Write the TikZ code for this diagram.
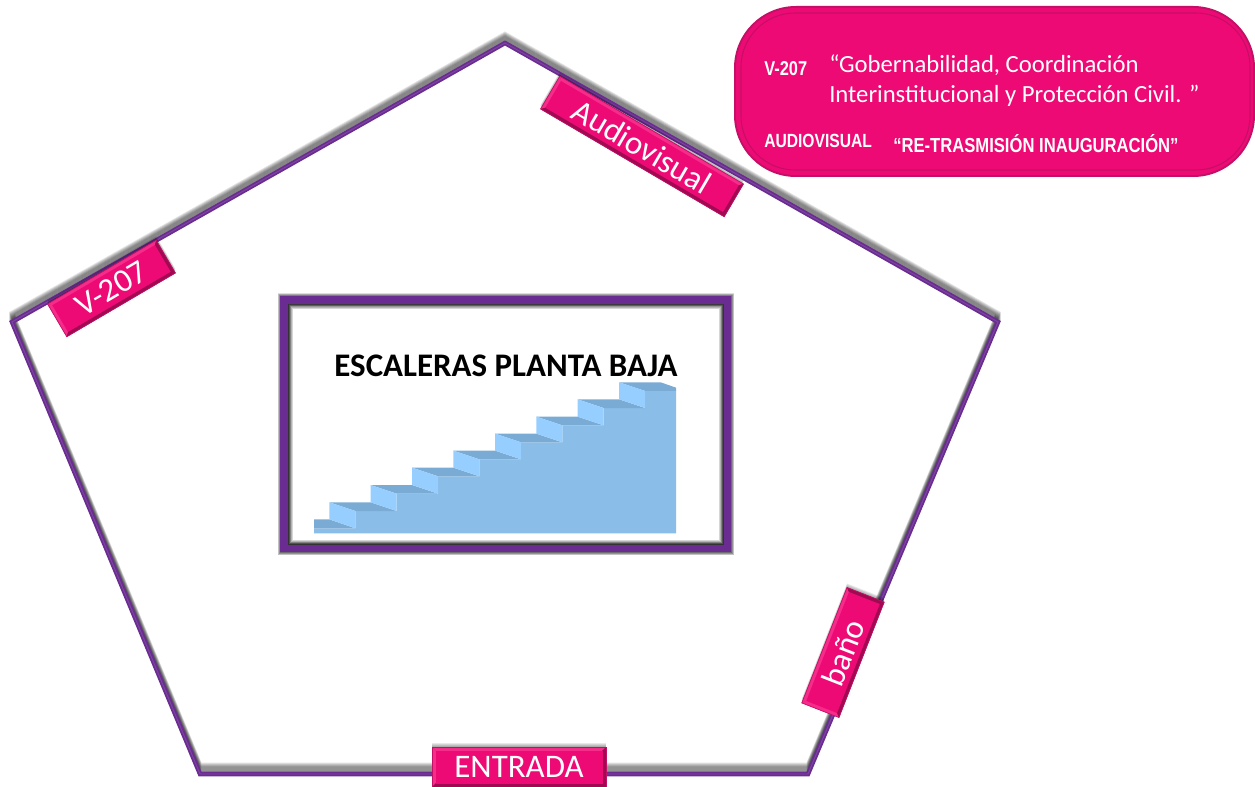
\documentclass[tikz,border=0pt]{standalone}
\usepackage{fontspec}
\setmainfont{Carlito}
\newfontfamily\arialn[FakeStretch=0.82]{Liberation Sans}
\usetikzlibrary{calc}
\definecolor{pinkfill}{HTML}{EE0A74}
\definecolor{pinklight}{HTML}{F52C8A}
\definecolor{pinkdark}{HTML}{A00A52}
\definecolor{pinkedge}{HTML}{C40F66}
\definecolor{wallpurple}{HTML}{6A2C91}
\definecolor{stairfront}{HTML}{8ABDE8}
\definecolor{stairtread}{HTML}{7AABD4}
\definecolor{stairriser}{HTML}{96CFFF}
\tikzset{
  tagtext/.style={inner sep=0pt,text=white,font=\fontsize{24.7}{24.7}\selectfont},
  legendbig/.style={anchor=base west,inner sep=0pt,text=white,font=\fontsize{18.5}{18.5}\selectfont},
  legendbold/.style={anchor=base west,inner sep=0pt,text=white,font=\arialn\bfseries\fontsize{15}{15}\selectfont},
  wall/.style={draw=wallpurple,line width=3.4pt,line join=miter},
  wallshadow/.style={draw=black,opacity=0.11,line width=3.4pt,line join=miter},
  frameglow/.style={draw=black,opacity=0.13,line join=miter},
  riser/.style={fill=stairriser},
  tread/.style={fill=stairtread}
}
\newcommand{\tagshape}[7]{%
  \foreach \s in {1,2,3,4}{
    \begin{scope}[shift={(#2,#3-\s)},rotate=#6]
      \fill[black,opacity=0.09] (-#4/2,-#5/2) rectangle (#4/2,#5/2);
    \end{scope}
  }
  \begin{scope}[shift={(#2,#3)},rotate=#6]
    \fill[pinkedge] (-#4/2,-#5/2) rectangle (#4/2,#5/2);
    \fill[pinklight] (-#4/2,-#5/2) -- (#4/2,-#5/2) -- (#4/2-4,-#5/2+4) -- (-#4/2+4,-#5/2+4) -- cycle;
    \fill[pinklight] (-#4/2,-#5/2) -- (-#4/2+4,-#5/2+4) -- (-#4/2+4,#5/2-4) -- (-#4/2,#5/2) -- cycle;
    \fill[pinkdark] (#4/2,-#5/2) -- (#4/2-4,-#5/2+4) -- (#4/2-4,#5/2-4) -- (#4/2,#5/2) -- cycle;
    \fill[pinkdark] (-#4/2,#5/2) -- (#4/2,#5/2) -- (#4/2-4,#5/2-4) -- (-#4/2+4,#5/2-4) -- cycle;
    \fill[pinkfill] (-#4/2+3.5,-#5/2+3.5) rectangle (#4/2-3.5,#5/2-3.5);
    \draw[pinkedge,line width=0.5pt] (-#4/2,-#5/2) rectangle (#4/2,#5/2);
  \end{scope}
  \node[tagtext,rotate=#6] (#1) at (#2,#3) {#7};
}
\begin{document}
\begin{tikzpicture}[x=0.75pt,y=-0.75pt]
\useasboundingbox (0,0) rectangle (1255,787);
\fill[white] (0,0) rectangle (1255,787);

% pentagon
\coordinate (ptop) at (505,43);
\coordinate (pright) at (998,322);
\coordinate (pbr) at (808,774);
\coordinate (pbl) at (200,774);
\coordinate (pleft) at (12,322);
\foreach \s in {1,...,9}{
  \draw[wallshadow,transform canvas={yshift=\s*0.75pt}] (ptop) -- (pright) -- (pbr) -- (pbl) -- (pleft) -- cycle;
}
\draw[wall] (ptop) -- (pright) -- (pbr) -- (pbl) -- (pleft) -- cycle;
\draw[white,opacity=0.12,line width=0.7pt] (ptop) -- (pright) -- (pbr) -- (pbl) -- (pleft) -- cycle;

% central frame
\foreach \w in {8,9,10,11,12,13}{
  \draw[frameglow,line width=\w*0.75pt] (284,300) rectangle (727.5,548.5);
}
\foreach \w in {2,4,6,8,10}{
  \draw[draw=black,opacity=0.16,line width=\w*0.75pt] (288,304) rectangle (723.5,544.5);
}
\draw[wallpurple,line width=5.6pt,line join=miter] (284,300) rectangle (727.5,548.5);

% stairs
\begin{scope}[shift={(270,285)},x=0.25pt,y=-0.25pt]
\fill[stairfront] (132,730) -- (256,730) -- (256,678) -- (380,678) -- (380,626) -- (504,626) -- (504,574) -- (628,574) -- (628,523) -- (753,523) -- (753,472) -- (877,472) -- (877,421) -- (1001,421) -- (1001,369) -- (1125,369) -- (1125,318) -- (1218,318) -- (1218,745) -- (132,745) -- cycle;
\fill[tread] (132,703) -- (178,703) -- (256,730) -- (132,730) -- cycle;
\fill[tread] (178,652) -- (302,652) -- (380,678) -- (256,678) -- cycle;
\fill[tread] (302,600) -- (426,600) -- (504,626) -- (380,626) -- cycle;
\fill[tread] (426,548) -- (550,548) -- (628,574) -- (504,574) -- cycle;
\fill[tread] (550,497) -- (675,497) -- (753,523) -- (628,523) -- cycle;
\fill[tread] (675,446) -- (799,446) -- (877,472) -- (753,472) -- cycle;
\fill[tread] (799,395) -- (923,395) -- (1001,421) -- (877,421) -- cycle;
\fill[tread] (923,343) -- (1047,343) -- (1125,369) -- (1001,369) -- cycle;
\fill[tread] (1047,292) -- (1172,292) -- (1218,308) -- (1218,318) -- (1125,318) -- cycle;
\fill[riser] (178,652) -- (256,678) -- (256,730) -- (178,703) -- cycle;
\fill[riser] (302,600) -- (380,626) -- (380,678) -- (302,652) -- cycle;
\fill[riser] (426,548) -- (504,574) -- (504,626) -- (426,600) -- cycle;
\fill[riser] (550,497) -- (628,523) -- (628,574) -- (550,548) -- cycle;
\fill[riser] (675,446) -- (753,472) -- (753,523) -- (675,497) -- cycle;
\fill[riser] (799,395) -- (877,421) -- (877,472) -- (799,446) -- cycle;
\fill[riser] (923,343) -- (1001,369) -- (1001,421) -- (923,395) -- cycle;
\fill[riser] (1047,292) -- (1125,318) -- (1125,369) -- (1047,343) -- cycle;
\end{scope}
\node[anchor=base,inner sep=0pt,text=black,font=\bfseries\fontsize{24.7}{24.7}\selectfont] (stairstitle) at (506,377) {ESCALERAS PLANTA BAJA};

% tags
\tagshape{tagvsiete}{111.5}{288.5}{126}{38}{30.4}{V-207}
\tagshape{tagaudio}{642}{146.5}{213}{38}{-30.4}{Audiovisual}
\tagshape{tagbano}{843}{652.5}{124}{40}{68.6}{baño}
\tagshape{tagentrada}{519}{767}{174}{40}{0}{ENTRADA}

% legend
\fill[pinkedge,rounded corners=62*0.75pt] (734,6) rectangle (1255,177);
\fill[pinkfill,rounded corners=60*0.75pt] (736,8) rectangle (1253,175);
\draw[pinkedge,line width=0.8pt,rounded corners=54*0.75pt] (741,13) rectangle (1250,170);
\node[legendbold] (lgvsiete) at (764,76) {V-207};
\node[legendbig] (lggob) at (829,73) {“Gobernabilidad, Coordinación};
\node[legendbig] (lginter) at (829,103) {Interinstitucional y Protección Civil. ”};
\node[legendbold,font=\arialn\bfseries\fontsize{14.3}{14.3}\selectfont] (lgaudio) at (764,148) {AUDIOVISUAL};
\node[legendbold,font=\arialn\bfseries\fontsize{15.2}{15.2}\selectfont] (lgre) at (893,153) {“RE-TRASMISIÓN INAUGURACIÓN”};
\end{tikzpicture}
\end{document}
